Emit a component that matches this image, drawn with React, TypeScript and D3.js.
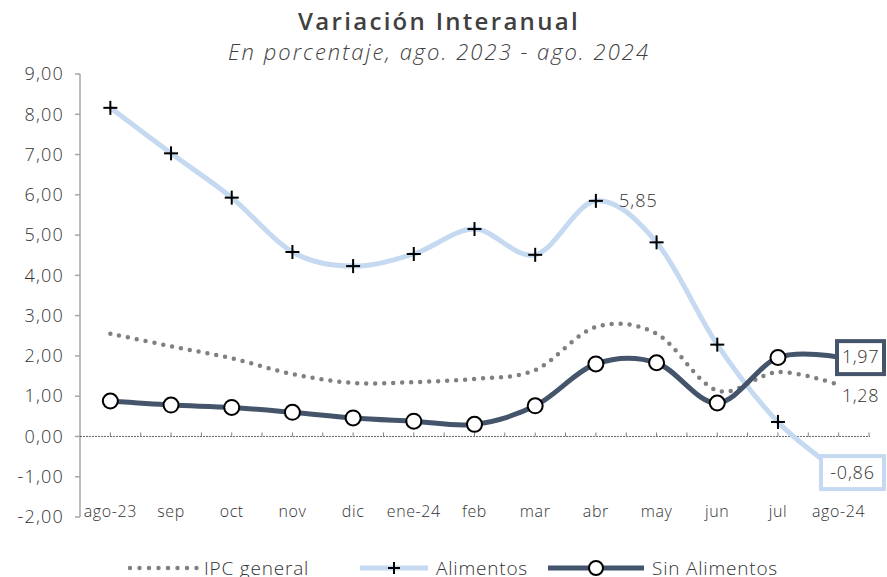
import React from 'react';
import * as d3 from 'd3';

const MONTHS = ['ago-23', 'sep', 'oct', 'nov', 'dic', 'ene-24', 'feb', 'mar', 'abr', 'may', 'jun', 'jul', 'ago-24'];
const IPC_GENERAL = [2.55, 2.24, 1.94, 1.55, 1.33, 1.35, 1.43, 1.65, 2.72, 2.55, 1.14, 1.6, 1.28];
const ALIMENTOS = [8.16, 7.03, 5.93, 4.58, 4.23, 4.53, 5.15, 4.51, 5.85, 4.82, 2.28, 0.36, -0.86];
const SIN_ALIMENTOS = [0.88, 0.78, 0.72, 0.6, 0.46, 0.38, 0.3, 0.76, 1.8, 1.83, 0.83, 1.96, 1.97];
const Y_TICKS = [9, 8, 7, 6, 5, 4, 3, 2, 1, 0, -1, -2];

const W = 887, H = 577;
const FONT = '"Open Sans", Lato, sans-serif';
const TXT = '#333';
const fmt = (v: number) => v.toFixed(2).replace('.', ',');

export default function App() {
  const x = d3.scaleBand<string>().domain(MONTHS).range([80, 869]);
  const y = d3.scaleLinear().domain([-2, 9]).range([517, 74]);
  const cx = (i: number) => x(MONTHS[i])! + x.bandwidth() / 2;
  const line = d3.line<number>().x((_, i) => cx(i)).y(d => y(d)).curve(d3.curveCardinal.tension(0));

  // half-band ticks on the zero line
  const zeroTicks: number[] = [];
  MONTHS.forEach((m, i) => { zeroTicks.push(cx(i)); zeroTicks.push(x(m)! + x.bandwidth()); });

  const last = MONTHS.length - 1;

  return (
    <svg width={W} height={H} style={{ position: 'absolute', left: 0, top: 0, background: '#fff' }} fontFamily={FONT}>
      <text x={439} y={30} textAnchor="middle" fontSize={24} fontWeight={600} fill="#404040" letterSpacing={2.3}>Variación Interanual</text>
      <text x={439} y={60} textAnchor="middle" fontSize={22} fontWeight={300} fontStyle="italic" fill="#404040" letterSpacing={2}>En porcentaje, ago. 2023 - ago. 2024</text>

      {/* y axis */}
      <line x1={80} x2={80} y1={y(9)} y2={y(-2)} stroke="#a6a6a6" strokeWidth={1.5} />
      {Y_TICKS.map(t => (
        <g key={t}>
          <line x1={75} x2={80} y1={y(t)} y2={y(t)} stroke="#a6a6a6" strokeWidth={1.5} />
          <text x={64} y={y(t)} dy="0.35em" textAnchor="end" fontSize={18} fontWeight={300} fill={TXT} letterSpacing={1.2}>{fmt(t)}</text>
        </g>
      ))}

      {/* zero line */}
      <line x1={80} x2={870} y1={y(0)} y2={y(0)} stroke="#404040" strokeWidth={0.8} strokeDasharray="2,1" />
      {zeroTicks.map((t, i) => (
        <line key={i} x1={t} x2={t} y1={y(0) - 4} y2={y(0)} stroke="#808080" strokeWidth={1} />
      ))}

      {MONTHS.map((m, i) => (
        <text key={m} x={cx(i)} y={517} textAnchor="middle" fontSize={16} fontWeight={300} fill={TXT} letterSpacing={0.6}>{m}</text>
      ))}

      {/* series */}
      <path d={line(IPC_GENERAL)!} fill="none" stroke="#808080" strokeWidth={4.5} strokeLinecap="round" strokeDasharray="0,9" />
      <path d={line(ALIMENTOS)!} fill="none" stroke="#c5d9f1" strokeWidth={5} />
      <path d={line(SIN_ALIMENTOS)!} fill="none" stroke="#44546a" strokeWidth={5} />

      {ALIMENTOS.slice(0, last).map((v, i) => (
        <g key={i} stroke="#000" strokeWidth={2}>
          <line x1={cx(i) - 7} x2={cx(i) + 7} y1={y(v)} y2={y(v)} />
          <line x1={cx(i)} x2={cx(i)} y1={y(v) - 7} y2={y(v) + 7} />
        </g>
      ))}
      {SIN_ALIMENTOS.slice(0, last).map((v, i) => (
        <circle key={i} cx={cx(i)} cy={y(v)} r={7.5} fill="#fff" stroke="#000" strokeWidth={2} />
      ))}

      {/* data labels */}
      <text x={619} y={y(ALIMENTOS[8])} dy="0.35em" fontSize={18} fontWeight={300} fill={TXT} letterSpacing={1}>{fmt(ALIMENTOS[8])}</text>
      <text x={842} y={y(IPC_GENERAL[last]) + 11} dy="0.35em" fontSize={18} fontWeight={300} fill={TXT} letterSpacing={0.6}>{fmt(IPC_GENERAL[last])}</text>
      <rect x={837} y={y(SIN_ALIMENTOS[last]) - 16} width={47} height={33} fill="#fff" stroke="#44546a" strokeWidth={4} />
      <text x={860.5} y={y(SIN_ALIMENTOS[last])} dy="0.35em" textAnchor="middle" fontSize={18} fontWeight={300} fill={TXT} letterSpacing={0.6}>{fmt(SIN_ALIMENTOS[last])}</text>
      <rect x={821} y={y(ALIMENTOS[last]) - 15} width={63} height={33} fill="#fff" stroke="#c5d9f1" strokeWidth={4} />
      <text x={852.5} y={y(ALIMENTOS[last]) + 1.5} dy="0.35em" textAnchor="middle" fontSize={18} fontWeight={300} fill={TXT} letterSpacing={0.8}>{fmt(ALIMENTOS[last])}</text>

      {/* legend */}
      <g fontSize={19} fontWeight={300} fill={TXT} letterSpacing={0.8}>
        <line x1={130} x2={198} y1={568} y2={568} stroke="#808080" strokeWidth={4.5} strokeLinecap="round" strokeDasharray="0,9.5" />
        <text x={204} y={568} dy="0.35em">IPC general</text>
        <line x1={360} x2={428} y1={568} y2={568} stroke="#c5d9f1" strokeWidth={5} />
        <g stroke="#000" strokeWidth={2}>
          <line x1={388} x2={400} y1={568} y2={568} />
          <line x1={394} x2={394} y1={562} y2={574} />
        </g>
        <text x={436} y={568} dy="0.35em">Alimentos</text>
        <line x1={548} x2={644} y1={568} y2={568} stroke="#44546a" strokeWidth={5} />
        <circle cx={596} cy={568} r={7} fill="#fff" stroke="#000" strokeWidth={2} />
        <text x={652} y={568} dy="0.35em">Sin Alimentos</text>
      </g>
    </svg>
  );
}
